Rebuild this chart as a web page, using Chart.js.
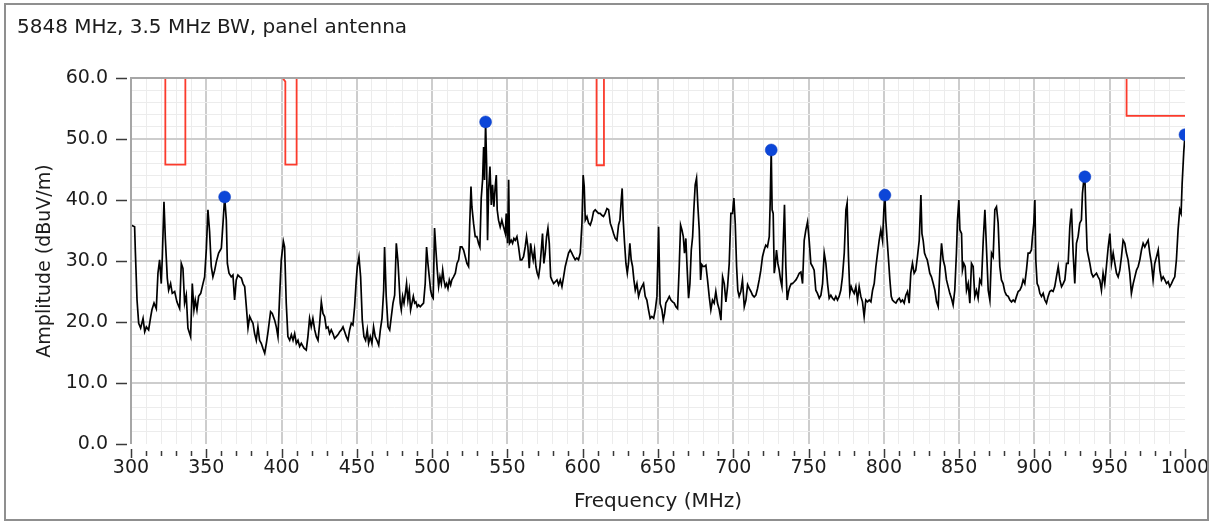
<!DOCTYPE html>
<html>
<head>
<meta charset="utf-8">
<title>5848 MHz, 3.5 MHz BW, panel antenna</title>
<script src="https://cdn.jsdelivr.net/npm/chart.js@4.4.1/dist/chart.umd.min.js"></script>
<style>
  html, body { margin: 0; padding: 0; background: #ffffff; }
  #wrap { position: relative; width: 1212px; height: 524px; overflow: hidden; }
  #plot { position: absolute; left: 0; top: 0; }
  #frame { position: absolute; left: 4px; top: 3px; width: 1205px; height: 518px;
           box-sizing: border-box; border: 2px solid #8f8f8f; pointer-events: none; }
</style>
</head>
<body>
<div id="wrap">
  <canvas id="plot" width="1212" height="524"></canvas>
  <div id="frame"></div>
</div>
<script>
// Spectrum sweep, 300-1000 MHz (frequency in MHz, amplitude in dBuV/m)
const traceFreq = [
  300.0,302.4,302.9,304.0,305.1,306.4,308.0,309.1,310.2,311.7,313.1,313.9,315.3,316.8,317.9,319.0,320.1,320.8,321.9,322.8,
  324.1,325.0,326.3,327.4,329.0,330.5,332.3,333.4,334.5,335.6,336.7,337.8,339.6,340.7,341.8,342.7,343.8,344.9,346.3,347.8,
  348.9,350.0,351.1,352.2,353.3,354.4,355.6,356.7,358.2,360.0,361.1,362.2,363.3,364.0,365.1,366.6,367.7,368.8,369.9,371.0,
  372.2,373.3,374.4,375.5,376.6,377.7,378.8,379.9,381.0,382.1,383.2,384.3,385.4,386.5,387.6,388.8,389.9,391.0,392.7,393.8,
  395.4,396.5,397.6,398.7,399.8,401.2,402.0,403.1,404.2,405.4,406.5,407.6,408.7,409.8,410.9,412.0,413.1,414.9,416.4,417.5,
  418.6,419.7,420.8,422.0,423.1,424.2,425.3,426.4,427.5,428.6,429.7,430.8,431.9,433.0,434.1,435.2,436.3,437.4,438.6,439.7,
  440.8,441.9,443.0,444.1,445.2,446.3,447.4,448.5,449.6,450.3,451.4,452.5,453.6,454.7,455.8,456.9,457.8,458.9,460.0,461.1,
  462.2,463.3,464.5,465.6,466.7,467.8,468.4,469.5,470.7,471.8,472.9,474.0,475.1,476.2,477.3,478.8,479.5,480.4,481.3,482.2,
  483.0,483.9,484.8,485.7,486.6,487.5,488.4,489.2,490.1,491.0,492.1,493.2,494.3,495.4,496.3,497.2,498.1,499.0,499.9,500.7,
  501.6,502.5,503.4,504.3,505.2,506.1,507.0,507.8,508.7,509.6,510.5,511.4,512.3,513.1,514.2,515.4,516.5,517.6,518.7,519.8,
  520.9,522.0,523.1,524.2,524.9,525.8,526.4,527.5,528.6,529.7,530.8,531.7,532.6,533.5,534.2,534.8,535.5,536.2,536.8,537.5,
  538.4,539.3,540.1,541.0,541.9,542.6,543.2,544.1,545.2,546.3,547.4,548.6,549.2,550.1,550.8,551.4,552.5,553.4,554.3,555.2,
  556.3,557.4,558.5,559.6,560.7,561.8,562.7,563.6,564.5,565.4,566.3,567.1,568.0,568.9,569.8,570.7,571.6,572.5,573.3,574.2,
  575.1,576.0,576.9,577.8,578.7,579.5,580.7,581.8,582.9,584.0,585.1,586.2,587.3,588.4,589.5,590.6,591.7,592.8,593.9,595.0,
  596.1,597.2,598.4,599.5,600.3,601.0,601.7,602.8,603.9,605.0,606.1,607.2,608.3,609.4,610.5,611.6,612.7,613.8,614.9,616.1,
  617.2,618.3,619.4,620.5,621.6,622.7,623.8,624.7,625.6,626.2,626.9,627.8,628.7,629.6,630.4,631.3,632.2,633.1,634.0,634.9,
  636.0,637.1,638.2,639.3,640.4,641.5,642.6,643.7,644.8,645.9,647.1,648.2,649.3,650.4,651.4,652.6,653.5,654.4,655.2,656.3,
  657.5,658.6,659.7,660.8,661.9,663.0,664.1,665.0,665.9,666.8,667.6,668.5,669.4,670.3,671.2,672.1,673.0,673.8,674.7,675.6,
  676.5,677.4,678.3,679.1,680.0,680.9,681.8,682.9,684.0,685.1,686.2,687.3,688.4,689.5,690.7,691.8,692.9,694.0,695.1,696.2,
  697.3,698.4,699.5,700.4,701.3,702.2,703.0,703.9,705.0,706.1,707.3,708.4,709.5,710.6,711.7,712.8,713.9,715.0,716.1,717.2,
  718.3,719.4,720.5,721.6,722.7,723.9,724.5,725.2,725.8,726.5,727.2,727.8,728.7,729.6,730.5,731.4,732.3,733.1,734.0,734.9,
  735.8,736.7,737.6,738.5,739.3,740.5,741.6,742.7,743.8,744.9,746.0,747.1,748.2,749.3,750.4,751.5,752.6,753.7,754.8,755.9,
  757.1,758.2,759.3,760.4,761.5,762.6,763.7,764.8,765.9,767.0,768.1,769.2,770.3,771.4,772.5,773.7,774.8,775.6,776.5,777.4,
  778.3,779.2,780.3,781.4,782.5,783.6,784.7,785.8,786.9,788.0,789.1,790.3,791.4,792.5,793.6,794.7,795.8,796.9,798.0,799.1,
  800.0,800.7,801.3,802.2,803.1,804.0,804.9,805.7,806.9,808.0,809.1,810.2,811.3,812.4,813.5,814.6,815.7,816.8,817.9,819.0,
  820.1,821.2,822.3,823.5,824.6,825.3,826.1,827.0,827.9,828.8,829.7,830.5,831.6,832.8,833.9,835.0,836.1,837.2,838.3,839.4,
  840.5,841.6,842.7,843.8,844.9,846.0,847.1,848.2,848.9,849.8,850.5,851.6,852.2,853.1,854.0,854.9,856.0,857.1,858.2,859.3,
  860.4,861.5,862.6,863.7,864.8,866.0,867.1,868.2,869.3,870.4,871.5,872.6,873.7,874.8,875.9,877.0,878.1,879.2,880.3,881.4,
  882.6,883.7,884.8,885.9,887.0,888.1,889.2,890.3,891.4,892.5,893.6,894.7,895.8,896.9,898.0,898.7,899.6,900.3,900.9,901.8,
  902.7,903.6,904.7,905.8,906.9,908.0,909.1,910.2,911.3,912.4,913.5,914.6,915.8,916.9,918.0,919.1,920.2,921.3,922.4,923.5,
  924.6,925.7,926.8,927.9,929.0,930.1,931.2,931.9,932.8,933.5,934.1,935.0,935.9,936.8,937.9,939.0,940.1,941.2,942.3,943.4,
  944.5,945.6,946.7,947.8,949.0,950.1,951.2,952.3,953.4,954.5,955.6,956.7,957.8,958.9,960.0,961.1,962.2,963.3,964.4,965.6,
  966.7,967.8,968.9,970.0,971.1,972.2,973.3,974.4,975.5,976.6,977.7,978.8,979.9,981.1,982.2,983.3,984.4,985.5,986.6,987.7,
  988.8,989.9,991.0,992.1,993.2,994.3,995.4,996.5,997.4,998.1,999.2,1000.0
];
const traceAmp = [
  35.9,35.6,31.5,23.6,19.8,19.0,20.6,18.4,19.2,18.7,20.9,22.0,23.1,22.2,28.0,30.2,26.3,30.7,39.7,33.7,
  27.2,25.2,26.3,24.7,25.0,23.3,22.2,29.6,28.8,23.1,24.4,19.0,17.6,26.3,22.0,23.6,22.0,24.2,24.7,26.3,
  27.4,31.8,38.4,34.8,29.1,27.4,28.5,29.9,31.3,32.1,36.2,40.5,36.7,29.6,28.0,27.4,27.7,23.6,26.9,27.7,
  27.4,27.2,26.3,25.8,22.5,19.0,20.9,20.3,19.8,18.1,17.0,19.2,17.0,16.5,15.7,14.9,16.5,18.4,21.7,21.4,
  20.3,19.2,17.6,24.2,30.2,33.2,32.3,23.1,17.6,17.0,17.9,17.0,18.1,16.5,17.0,16.0,16.5,15.7,15.4,17.6,
  20.6,19.2,20.6,18.7,17.6,17.0,19.8,23.3,21.4,20.9,19.0,19.2,18.1,18.7,18.1,17.3,17.6,17.9,18.4,18.7,
  19.2,18.4,17.6,17.0,18.7,19.8,19.5,22.5,26.9,29.1,30.7,27.4,20.3,17.6,17.0,18.7,16.5,17.6,16.5,19.2,
  17.6,17.0,16.2,18.7,20.6,25.2,32.3,24.2,19.2,18.7,20.9,23.1,24.4,32.9,29.9,23.1,22.0,24.2,23.1,24.7,
  26.3,23.6,25.2,22.0,23.1,24.2,23.1,23.3,22.5,22.8,22.5,22.8,23.1,26.3,32.3,29.6,27.4,25.2,24.2,23.9,
  35.4,31.8,28.5,25.8,27.4,26.3,28.5,26.9,25.8,26.3,25.5,26.9,26.1,26.9,27.4,28.0,29.6,30.2,32.3,32.3,
  31.8,30.7,29.6,29.1,35.6,42.2,38.9,36.2,34.0,34.0,32.9,32.3,40.3,43.3,48.7,43.3,52.8,45.7,33.4,41.6,
  45.5,39.2,42.5,38.9,42.2,44.1,38.4,36.7,35.6,36.7,35.6,34.5,37.8,32.9,43.3,32.9,33.4,32.9,33.7,33.4,
  34.0,32.3,30.2,30.2,30.7,32.3,34.0,32.3,28.8,32.9,31.3,30.2,31.8,29.1,28.0,27.4,29.1,31.8,34.5,29.6,
  31.3,34.0,35.4,32.9,27.4,26.9,26.3,26.6,26.9,26.1,26.9,25.8,27.4,29.1,30.2,31.3,31.8,31.3,30.7,30.2,
  30.5,30.2,31.3,36.2,44.1,42.2,36.7,37.3,36.2,35.9,36.7,38.1,38.4,38.1,37.8,37.8,37.5,37.3,37.8,38.6,
  38.4,36.2,35.4,34.5,33.7,33.4,35.9,36.7,40.0,41.9,36.7,32.9,29.6,28.0,29.6,32.9,30.2,29.1,26.9,25.2,
  26.3,24.2,25.2,25.8,26.3,24.2,23.6,22.0,20.6,20.9,20.6,22.0,24.2,35.6,23.0,22.0,20.3,21.4,23.1,23.6,
  24.2,23.6,23.3,23.1,22.5,22.2,29.1,35.9,35.1,34.0,31.3,33.7,28.5,23.9,26.3,31.8,34.0,38.4,42.5,43.6,
  38.9,35.1,26.9,29.4,29.1,29.1,29.3,26.9,24.2,22.0,23.6,23.1,25.0,23.1,22.0,20.3,27.4,26.3,23.3,25.8,
  29.6,37.8,37.8,40.3,36.2,29.1,25.2,24.2,25.0,26.9,22.5,23.6,26.1,25.5,25.0,24.4,24.1,24.4,25.5,26.9,
  28.5,30.7,31.8,32.6,32.3,34.0,39.5,48.2,38.4,37.8,28.0,29.1,31.8,29.6,28.5,26.9,25.8,32.3,39.2,29.1,
  23.6,25.0,25.8,26.3,26.3,26.6,26.9,27.4,28.0,28.2,26.3,33.4,35.1,36.4,33.4,29.6,29.1,28.5,25.2,24.7,
  23.9,24.4,26.3,31.3,29.6,26.3,23.9,24.4,23.9,23.6,24.2,23.6,24.2,25.2,27.4,31.3,38.4,39.5,30.7,24.7,
  25.8,25.2,24.7,25.8,23.6,25.8,24.2,23.3,20.9,23.6,23.3,23.6,23.3,25.2,26.3,29.1,31.3,33.4,35.1,33.4,
  38.4,40.8,36.7,33.4,30.2,26.9,24.2,23.6,23.3,23.1,23.6,23.9,23.3,23.6,23.1,24.4,25.0,23.1,28.0,29.6,
  28.0,28.5,30.7,33.4,40.8,34.5,33.4,31.3,30.7,30.2,29.1,28.0,27.4,26.3,25.2,23.3,22.5,28.5,32.9,30.2,
  29.1,26.9,25.8,24.7,23.9,22.8,25.2,31.3,36.7,40.0,35.1,34.5,28.5,29.6,29.1,25.2,26.3,23.1,29.6,29.1,
  24.2,25.2,23.9,26.9,26.3,33.4,38.4,31.8,25.2,23.6,31.3,30.7,38.4,38.9,36.2,29.1,26.9,26.3,25.0,24.4,
  24.2,23.6,23.3,23.6,23.3,24.2,25.0,25.2,25.8,26.9,26.3,28.5,31.3,31.3,31.8,34.0,36.2,40.0,30.2,26.3,
  25.8,24.7,24.2,24.7,23.6,23.1,24.2,25.0,25.2,25.0,25.8,27.4,29.1,26.9,25.8,26.3,26.9,29.6,29.6,35.6,
  38.6,31.3,26.3,32.9,34.0,36.2,36.7,41.1,43.3,43.8,38.4,31.8,30.7,29.6,28.0,27.4,27.7,28.0,27.4,26.9,
  25.2,28.0,26.3,29.1,32.3,34.5,29.6,31.3,29.6,28.0,27.4,28.5,30.7,33.4,32.9,31.3,30.2,28.0,24.7,26.3,
  27.4,28.5,29.1,30.2,31.8,32.9,32.3,32.9,33.4,31.3,29.6,26.9,29.6,30.7,31.8,28.5,26.9,27.4,26.9,26.3,
  26.6,25.8,26.3,26.9,27.4,30.2,35.1,38.4,37.8,42.7,48.0,50.7
];

// Marked peaks
const peakFreq = [362.2, 535.5, 725.2, 800.7, 933.5, 1000.0];
const peakAmp  = [40.5, 52.8, 48.2, 40.8, 43.8, 50.7];

// Limit mask (stepped)
const limitFreq = [300.0, 322.8, 322.8, 336.1, 336.1, 400.7, 402.5, 402.5, 410.0, 410.0,
                   609.2, 609.2, 614.1, 614.1, 961.2, 961.2, 1000.0];
const limitAmp  = [60.0, 60.0, 45.8, 45.8, 60.0, 60.0, 59.4, 45.8, 45.8, 60.0,
                   60.0, 45.7, 45.7, 60.0, 60.0, 53.8, 53.8];

const chartTitle = '5848 MHz, 3.5 MHz BW, panel antenna';
const xTitle = 'Frequency (MHz)';
const yTitle = 'Amplitude (dBuV/m)';

const FONT = '"DejaVu Sans", sans-serif';
const TEXT = '#1c1c1c';

const toPoints = (xs, ys) => xs.map((x, i) => ({ x, y: ys[i] }));
const isMult = (v, m) => Math.abs(v / m - Math.round(v / m)) < 1e-6;

// Frame edges, scale tick marks and the caption drawn around the plot area
const decor = {
  id: 'decor',
  afterDatasetsDraw(chart) {
    const { ctx, chartArea: a } = chart;
    ctx.save();
    ctx.strokeStyle = '#a6a6a6';
    ctx.lineWidth = 2;
    ctx.beginPath();
    ctx.moveTo(a.left, a.bottom);
    ctx.lineTo(a.left, a.top);
    ctx.lineTo(a.right, a.top);
    ctx.stroke();
    ctx.restore();
  },
  afterDraw(chart) {
    const { ctx, chartArea: a, scales: { x, y } } = chart;
    ctx.save();
    ctx.strokeStyle = '#3a3a3a';
    ctx.lineWidth = 1.5;
    ctx.beginPath();
    for (let v = x.min; v <= x.max + 1e-9; v += 10) {
      const px = Math.round(x.getPixelForValue(v)) + 0.5;
      const major = isMult(v, 50);
      ctx.moveTo(px, a.bottom + (major ? 5 : 7));
      ctx.lineTo(px, a.bottom + (major ? 14 : 12));
    }
    for (let v = y.min; v <= y.max + 1e-9; v += 10) {
      const py = Math.round(y.getPixelForValue(v)) + 0.5;
      ctx.moveTo(a.left - 15, py);
      ctx.lineTo(a.left - 4, py);
    }
    ctx.stroke();
    ctx.fillStyle = TEXT;
    ctx.font = '20px ' + FONT;
    ctx.textAlign = 'left';
    ctx.textBaseline = 'middle';
    ctx.fillText(chartTitle, 17, 28);
    ctx.restore();
  }
};

const noEdgePadding = s => { s.paddingLeft = 0; s.paddingRight = 0; s.paddingTop = 0; s.paddingBottom = 0; };

new Chart(document.getElementById('plot'), {
  type: 'line',
  data: {
    datasets: [
      {
        label: 'Peaks',
        type: 'scatter',
        data: toPoints(peakFreq, peakAmp),
        pointRadius: 6,
        pointHoverRadius: 6,
        pointBackgroundColor: '#0c46d8',
        pointBorderColor: '#0a3cc0',
        pointBorderWidth: 0.5,
        order: 0
      },
      {
        label: 'Trace',
        data: toPoints(traceFreq, traceAmp),
        borderColor: '#000000',
        borderWidth: 1.7,
        pointRadius: 0,
        tension: 0,
        order: 1
      },
      {
        label: 'Limit',
        data: toPoints(limitFreq, limitAmp),
        borderColor: '#fb3b2c',
        borderWidth: 1.8,
        pointRadius: 0,
        tension: 0,
        order: 2
      }
    ]
  },
  options: {
    responsive: false,
    animation: false,
    devicePixelRatio: 1,
    layout: { padding: { left: 17, right: 27, top: 78, bottom: 0 } },
    plugins: { legend: { display: false }, tooltip: { enabled: false }, title: { display: false } },
    scales: {
      x: {
        type: 'linear',
        min: 300,
        max: 1000,
        border: { display: false },
        grid: {
          drawTicks: false,
          color: c => (c.tick.value >= 1000 ? 'rgba(0,0,0,0)' : isMult(c.tick.value, 50) ? '#cdcdcd' : '#ececec'),
          lineWidth: c => (isMult(c.tick.value, 50) ? 2 : 1)
        },
        ticks: {
          stepSize: 10,
          autoSkip: false,
          maxRotation: 0,
          padding: 13,
          color: TEXT,
          font: { family: FONT, size: 19 },
          callback: v => (isMult(v, 50) ? String(v) : '')
        },
        title: {
          display: true,
          text: xTitle,
          color: TEXT,
          font: { family: FONT, size: 20 },
          padding: { top: 0, bottom: 10 }
        },
        afterFit: s => { s.height = 80; noEdgePadding(s); }
      },
      y: {
        type: 'linear',
        min: 0,
        max: 60,
        border: { display: false },
        grid: {
          drawTicks: false,
          color: c => (c.tick.value <= 0 ? 'rgba(0,0,0,0)' : isMult(c.tick.value, 10) ? '#cdcdcd' : '#ececec'),
          lineWidth: c => (isMult(c.tick.value, 10) ? 2 : 1)
        },
        ticks: {
          stepSize: 2,
          autoSkip: false,
          padding: 23,
          color: TEXT,
          font: { family: FONT, size: 19 },
          callback: v => (isMult(v, 10) ? v.toFixed(1) : '')
        },
        title: {
          display: true,
          text: yTitle,
          color: TEXT,
          font: { family: FONT, size: 19 },
          padding: { top: 17, bottom: 0 }
        },
        afterFit: s => { s.width = 114; noEdgePadding(s); }
      }
    }
  },
  plugins: [decor]
});
</script>
</body>
</html>
